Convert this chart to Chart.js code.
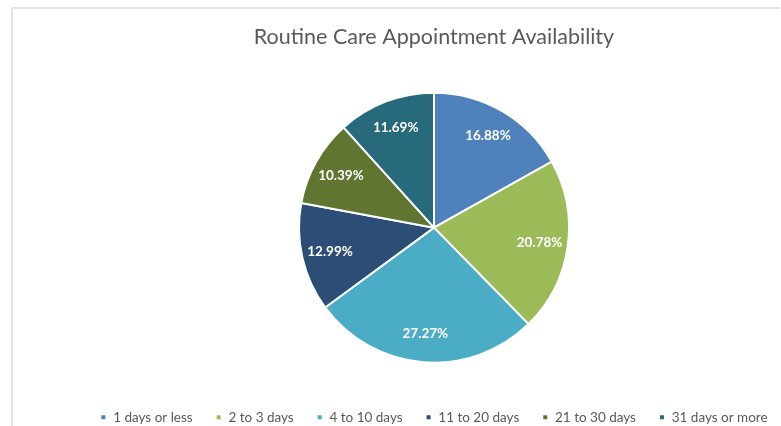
<!DOCTYPE html>
<html>
<head>
<meta charset="utf-8">
<script src="https://cdn.jsdelivr.net/npm/chart.js@4"></script>
<style>
    body { margin: 0; background: #fff; overflow: hidden; }
    .frame {
        position: absolute; left: 11px; top: 7px; width: 767px; height: 430px;
        border-top: 2px solid #e3e3e3; border-left: 2px solid #e3e3e3;
    }
    #wrap { position: absolute; left: 60px; top: 8px; width: 748px; height: 426px; }
</style>
</head>
<body>
<div class="frame"></div>
<div id="wrap"><canvas id="pieChart"></canvas></div>
<script>
const categories = ['1 days or less', '2 to 3 days', '4 to 10 days', '11 to 20 days', '21 to 30 days', '31 days or more'];
const counts = [13, 16, 21, 10, 8, 9];
const colors = ['#4F81BD', '#9BBB59', '#4BACC6', '#2C4D75', '#5F7530', '#276A7C'];

const total = counts.reduce((a, b) => a + b, 0);

// percent labels inside each slice
const sliceLabels = {
    id: 'sliceLabels',
    afterDatasetsDraw(chart) {
        const ctx = chart.ctx;
        const meta = chart.getDatasetMeta(0);
        ctx.save();
        ctx.font = 'bold 13.5px Lato';
        ctx.fillStyle = '#ffffff';
        ctx.textAlign = 'center';
        ctx.textBaseline = 'middle';
        meta.data.forEach(function(arc, i) {
            const mid = (arc.startAngle + arc.endAngle) / 2;
            const r = arc.outerRadius * 0.79;
            const x = arc.x + Math.cos(mid) * r;
            const y = arc.y + Math.sin(mid) * r;
            ctx.fillText((counts[i] / total * 100).toFixed(2) + '%', x, y);
        });
        ctx.restore();
    }
};

new Chart(document.getElementById('pieChart'), {
    type: 'pie',
    data: {
        labels: categories,
        datasets: [{
            data: counts,
            backgroundColor: colors,
            borderColor: '#ffffff',
            borderWidth: 2,
            radius: 135
        }]
    },
    options: {
        responsive: true,
        maintainAspectRatio: false,
        animation: false,
        layout: { padding: 0 },
        plugins: {
            title: {
                display: true,
                text: 'Routine Care Appointment Availability',
                color: '#595959',
                font: { family: 'Lato', size: 21.5, weight: 'normal' },
                padding: { top: 16, bottom: 18 }
            },
            legend: {
                position: 'bottom',
                labels: {
                    boxWidth: 6,
                    boxHeight: 6,
                    padding: 23,
                    color: '#595959',
                    font: { family: 'Lato', size: 13.5 }
                }
            },
            tooltip: { enabled: false }
        }
    },
    plugins: [sliceLabels]
});
</script>
</body>
</html>
